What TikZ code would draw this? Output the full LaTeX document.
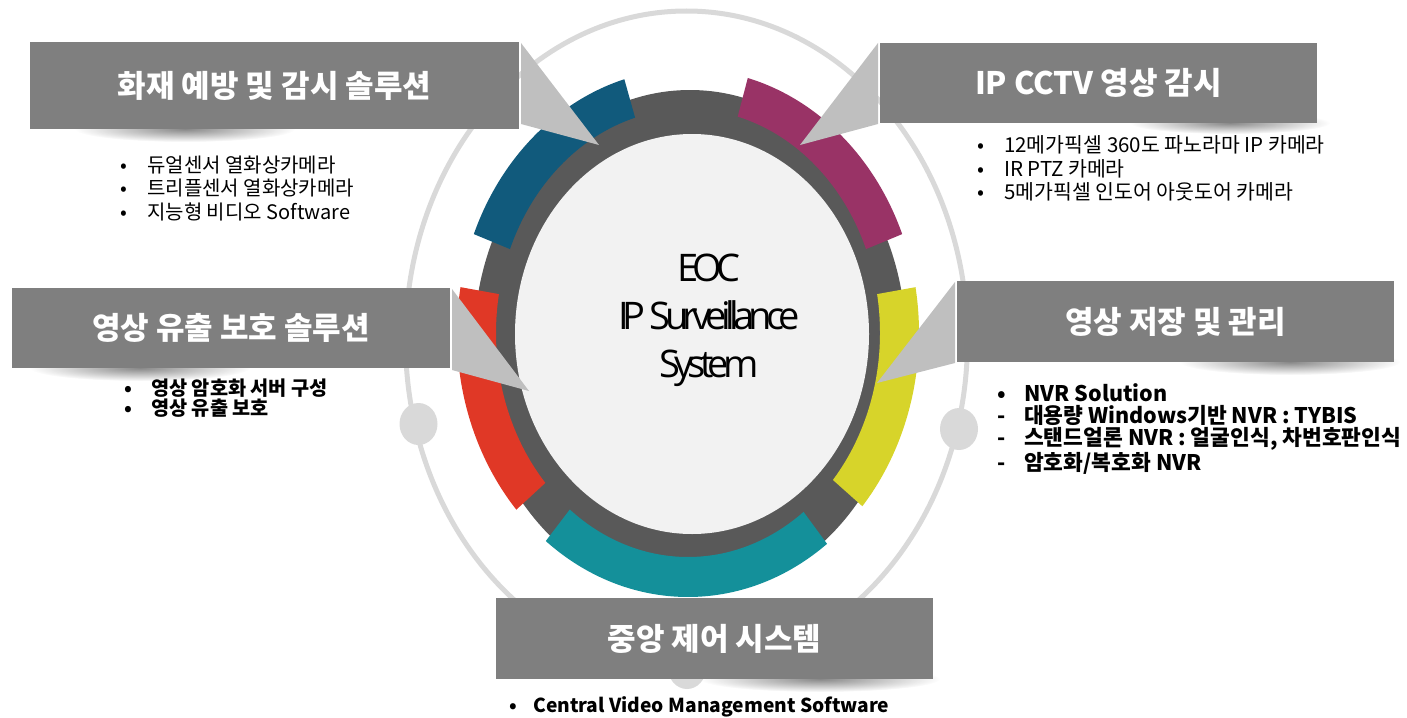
\documentclass[tikz,border=0pt]{standalone}
\usepackage{fontspec}
\setmainfont{Noto Sans CJK KR}
\newfontfamily\coreFont[LetterSpace=-15]{Open Sans}
\usetikzlibrary{calc, fadings}

\definecolor{orbitGray}{HTML}{D9D9D9}
\definecolor{ringDark}{HTML}{595959}
\definecolor{coreGray}{HTML}{F2F2F2}
\definecolor{boxGray}{HTML}{7F7F7F}
\definecolor{tipGray}{HTML}{BFBFBF}
\definecolor{ringBlue}{HTML}{115A7C}
\definecolor{ringPlum}{HTML}{993366}
\definecolor{ringLime}{HTML}{D7D42A}
\definecolor{ringRed}{HTML}{E03826}
\definecolor{ringTeal}{HTML}{14909A}

\tikzfading[name=softEdge, inner color=transparent!15, outer color=transparent!100]

\tikzset{
  title/.style = {fill=boxGray, text=white, inner sep=0pt, outer sep=0pt,
    font=\fontsize{31}{36}\selectfont\bfseries},
  tip/.style = {fill=tipGray},
  item/.style = {anchor=west, inner sep=0pt, font=\fontsize{20}{24}\selectfont},
  bolditem/.style = {item, font=\fontsize{19.7}{23}\selectfont\bfseries},
  boxshadow/.style = {fill=black, fill opacity=0.55, path fading=softEdge}
}
\newcommand{\bul}{\makebox[27pt][l]{•}}
\newcommand{\dsh}{\makebox[27pt][l]{-}}

\begin{document}
\begin{tikzpicture}[x=1pt, y=-1pt]
  \useasboundingbox (0,0) rectangle (1407,717);

  % orbit with knobs
  \draw[orbitGray, line width=5pt] (686.5,340) ellipse [x radius=281, y radius=329];
  \foreach \kx/\ky in {418.5/424, 959/429, 687/668}
    \fill[orbitGray] (\kx,\ky) ellipse [x radius=19, y radius=21];

  % ring
  \coordinate (hub) at (688,333);
  \fill[ringDark] (690,343) ellipse [x radius=216, y radius=253];
  \foreach \from/\to/\col in {-106/-158/ringBlue, -22/-75/ringPlum,
      41/-10/ringLime, -170/-222/ringRed, -232/-307/ringTeal}
    \fill[\col] ($(hub)+(\from:231 and 264)$)
      arc[start angle=\from, end angle=\to, x radius=231, y radius=264]
      -- ($(hub)+(\to:192 and 224)$)
      arc[start angle=\to, end angle=\from, x radius=192, y radius=224] -- cycle;
  \fill[coreGray] (692,334) ellipse [x radius=177, y radius=200];

  \node[font=\coreFont\fontsize{38}{48}\selectfont, align=center] (core) at (709,320)
    {EOC\\IP Surveillance\\System};

  % shadows
  \fill[boxshadow] (185,129) ellipse [x radius=110, y radius=13];
  \fill[boxshadow] (1230,123) ellipse [x radius=100, y radius=11];
  \fill[boxshadow] (140,368) ellipse [x radius=110, y radius=13];
  \fill[boxshadow] (1290,362) ellipse [x radius=110, y radius=13];
  \fill[boxshadow] (820,679) ellipse [x radius=120, y radius=13];

  % title boxes
  \node[title, minimum width=489pt, minimum height=87pt] (fire) at (274.5,85.5) {화재 예방 및 감시 솔루션};
  \node[title, minimum width=437pt, minimum height=80pt] (cctv) at (1098.5,83) {IP CCTV 영상 감시};
  \node[title, minimum width=438pt, minimum height=80pt] (leak) at (231,328) {영상 유출 보호 솔루션};
  \node[title, minimum width=437pt, minimum height=81pt] (store) at (1175.5,321.5) {영상 저장 및 관리};
  \node[title, minimum width=437pt, minimum height=81pt] (vms) at (714.5,638.5) {중앙 제어 시스템};

  % pointers
  \coordinate (fireTip) at (599,145);
  \coordinate (cctvTip) at (800,145);
  \coordinate (leakTip) at (529,391);
  \coordinate (storeTip) at (877,383);
  \fill[tip] ([xshift=2pt, yshift=-1pt]fire.north east) -- ([xshift=2pt, yshift=5pt]fire.south east) -- (fireTip) -- cycle;
  \fill[tip] ([xshift=-2pt]cctv.north west) -- ([xshift=-2pt, yshift=-1pt]cctv.south west) -- (cctvTip) -- cycle;
  \fill[tip] ([xshift=2pt, yshift=-1pt]leak.north east) -- ([xshift=2pt, yshift=-2pt]leak.south east) -- (leakTip) -- cycle;
  \fill[tip] ([xshift=-2pt, yshift=-1pt]store.north west) -- ([xshift=-2pt, yshift=-1pt]store.south west) -- (storeTip) -- cycle;

  % bullet lists
  \foreach \txt [count=\k] in {듀얼센서 열화상카메라, 트리플센서 열화상카메라, 지능형 비디오 Software}
    \node[item] (fireItem\k) at (120,{141.5+23.5*\k}) {\bul\txt};
  \foreach \txt [count=\k] in {12메가픽셀 360도 파노라마 IP 카메라, IR PTZ 카메라, 5메가픽셀 인도어 아웃도어 카메라}
    \node[item, font=\fontsize{20.5}{24}\selectfont] (cctvItem\k) at (977,{121.5+23.5*\k}) {\bul\txt};
  \foreach \txt [count=\k] in {영상 암호화 서버 구성, 영상 유출 보호}
    \node[bolditem] (leakItem\k) at (124,{368+20*\k}) {\bul\txt};
  \node[bolditem, font=\fontsize{21.5}{25}\selectfont\bfseries] (storeItem1) at (997,393) {\bul NVR Solution};
  \foreach \txt [count=\k from 2] in {대용량 Windows기반 NVR : TYBIS, {스탠드얼론 NVR : 얼굴인식, 차번호판인식}, 암호화/복호화 NVR}
    \node[bolditem, font=\fontsize{21.5}{25}\selectfont\bfseries] (storeItem\k) at (997,{367+24*\k}) {\dsh\txt};
  \node[bolditem, font=\fontsize{19.2}{23}\selectfont\bfseries] (vmsItem) at (509,707)
    {\makebox[24pt][l]{•}Central Video Management Software};
\end{tikzpicture}
\end{document}
